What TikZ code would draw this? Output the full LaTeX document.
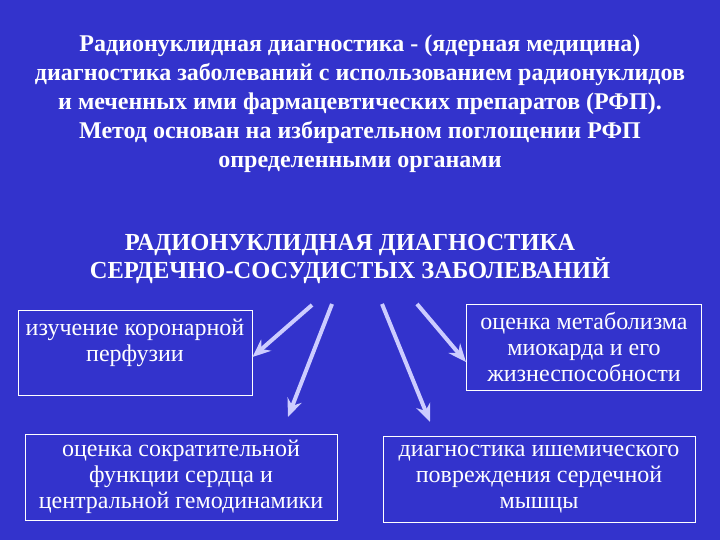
\documentclass[tikz,border=0pt]{standalone}
\usepackage{fontspec}
\setmainfont{Liberation Serif}
\usepackage{xcolor}
\usepackage{tikz}
\usetikzlibrary{positioning}
\usetikzlibrary{arrows.meta}
\definecolor{slideblue}{RGB}{51,51,204}
\definecolor{arrowlilac}{RGB}{204,204,255}

\begin{document}
\begin{tikzpicture}[
	x=1pt,y=-1pt,
	font=\fontsize{24}{26}\selectfont
]
\tikzset{
    textbox/.style = {rectangle, draw=white, line width=1pt, align=center, text=white, inner sep=0pt},
    headline/.style = {align=center, text=white, font=\fontsize{24}{29}\selectfont\bfseries},
    pointer/.style = {draw=arrowlilac, line width=4pt, -{Stealth[length=18pt,width=15pt,inset=6pt]}},
}
\fill[slideblue] (0,0) rectangle (720,540);
\useasboundingbox (0,0) rectangle (720,540);
\node[headline] (intro) at (360,104) {Радионуклидная диагностика - (ядерная медицина)\\
	диагностика заболеваний с использованием радионуклидов\\
	и меченных ими фармацевтических препаратов (РФП).\\
	Метод основан на избирательном поглощении РФП\\
	определенными органами};
\node[headline,font=\fontsize{24.5}{28}\selectfont\bfseries] (topic) at (350,259) {РАДИОНУКЛИДНАЯ ДИАГНОСТИКА\\СЕРДЕЧНО-СОСУДИСТЫХ ЗАБОЛЕВАНИЙ};

\node[textbox,minimum width=234,minimum height=85] (perf) at (135,353) {изучение коронарной\\перфузии\\~};
\node[textbox,minimum width=312,minimum height=86] (contr) at (181,477) {оценка сократительной\\функции сердца и\\центральной гемодинамики};
\node[textbox,minimum width=235,minimum height=86] (metab) at (584,347) {оценка метаболизма\\миокарда и его\\жизнеспособности};
\node[textbox,minimum width=312,minimum height=86] (isch) at (539,479) {диагностика ишемического\\повреждения сердечной\\мышцы};

\coordinate (a1) at (312,305);
\coordinate (a2) at (332,304);
\coordinate (a3) at (382,304);
\coordinate (a4) at (417,304);
\coordinate (e2) at (288,417);
\coordinate (e3) at (430,422);

\draw[pointer] (a1) -- ([yshift=-4pt]perf.east);
\draw[pointer] (a2) -- (e2);
\draw[pointer] (a3) -- (e3);
\draw[pointer] (a4) -- ([yshift=-15pt]metab.west);
\end{tikzpicture}
\end{document}
